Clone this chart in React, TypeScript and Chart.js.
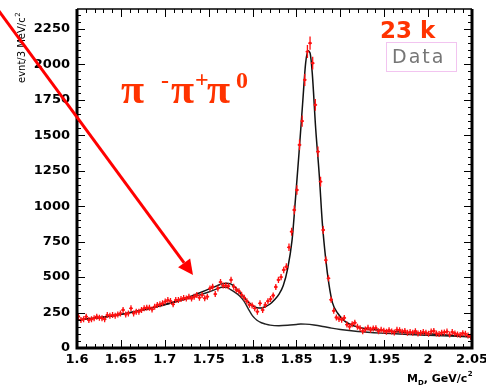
import React, { useEffect, useRef } from "react";
import { Chart, registerables } from "chart.js";

Chart.register(...registerables);

// Histogram: 3 MeV bins from 1.6 GeV
const BIN_START = 1.6;
const BIN_WIDTH = 0.003;
const counts = [
  222, 197, 203, 221, 197, 203, 209, 221, 214, 209, 203, 232, 228, 232, 228, 237, 244, 268, 237, 244,
  280, 244, 256, 256, 268, 280, 284, 284, 272, 291, 303, 308, 315, 327, 338, 331, 308, 338, 338, 345,
  352, 349, 361, 349, 361, 373, 355, 373, 350, 362, 420, 432, 380, 420, 465, 440, 440, 436, 480, 432,
  410, 400, 375, 355, 330, 305, 300, 280, 256, 315, 268, 303, 330, 345, 370, 430, 480, 500, 550, 573,
  710, 820, 973, 1114, 1432, 1600, 1890, 2090, 2149, 2008, 1714, 1384, 1173, 832, 620, 491,
  340, 262, 215, 205, 200, 212, 165, 150, 168, 178,
  150, 140, 118, 130, 142, 128, 138, 140, 118, 128,
  122, 115, 125, 117, 110, 128, 126, 115, 120, 108,
  112, 108, 118, 103, 106, 112, 108, 100, 116, 120,
  103, 98, 108, 110, 116, 95, 112, 103, 96, 92,
  104, 100, 88, 80,
];

// Total fit curve
const fitX = [
  1.6, 1.61, 1.62, 1.63, 1.64, 1.65, 1.66, 1.67, 1.68, 1.69, 1.7, 1.71, 1.72, 1.73, 1.74, 1.75, 1.76,
  1.765, 1.77, 1.775, 1.78, 1.785, 1.79, 1.795, 1.8, 1.805, 1.81, 1.815, 1.82, 1.825, 1.83, 1.835, 1.84, 1.845,
  1.849, 1.853, 1.857, 1.8605, 1.8633, 1.8655, 1.868, 1.872, 1.876, 1.8795,
  1.8833, 1.887, 1.891, 1.897, 1.905, 1.92, 1.95, 2.0, 2.05,
];
const fitY = [
  198, 204, 211, 219, 228, 238, 250, 262, 275, 290, 306, 324, 345, 366, 390, 415, 440,
  452, 457, 452, 430, 395, 360, 325, 298, 284, 282, 292, 310, 340, 378, 440, 560, 760,
  1060, 1380, 1720, 2010, 2095, 2080, 1940, 1540, 1220, 880,
  630, 450, 320, 245, 190, 148, 122, 100, 80,
];

// Background curve
const bgX = [
  1.6, 1.62, 1.64, 1.66, 1.68, 1.7, 1.72, 1.74, 1.75, 1.76, 1.765, 1.77, 1.775, 1.78, 1.785, 1.79, 1.795, 1.8,
  1.805, 1.81, 1.815, 1.82, 1.83, 1.84, 1.85, 1.855, 1.86, 1.87, 1.88, 1.89, 1.9, 1.92, 1.95, 2.0, 2.05,
];
const bgY = [
  197, 209, 226, 248, 274, 304, 338, 375, 395, 418, 428, 428, 412, 392, 368, 332, 278, 226,
  196, 178, 168, 161, 157, 160, 166, 169, 168, 162, 152, 140, 130, 116, 104, 90, 78,
];

const xTicks = [1.6, 1.65, 1.7, 1.75, 1.8, 1.85, 1.9, 1.95, 2.0, 2.05];
const yTicks = [0, 250, 500, 750, 1000, 1250, 1500, 1750, 2000, 2250];
const X_MIN = 1.6;
const X_MAX = 2.05;
const Y_MIN = 0;
const Y_MAX = 2390;
const X_MINOR = 0.01;
const Y_MINOR = 50;

const RED = "#ff1010";
const ORANGE = "#ff3300";
const TICK_FONT = { family: "'DejaVu Sans'", size: 13, weight: "bold" as const };

function fmt(v: number) {
  return String(Number(v.toFixed(2)));
}

export default function App() {
  const ref = useRef<HTMLCanvasElement>(null);

  useEffect(() => {
    const canvas = ref.current;
    if (!canvas) return;

    const points = counts.map((c, i) => ({ x: BIN_START + (i + 0.5) * BIN_WIDTH, y: c }));
    const fit = fitX.map((x, i) => ({ x, y: fitY[i] }));
    const bg = bgX.map((x, i) => ({ x, y: bgY[i] }));

    const decor = {
      id: "decor",
      afterDatasetsDraw(chart: any) {
        const { ctx, chartArea: a, scales } = chart;
        const xs = scales.x;
        const ys = scales.y;
        ctx.save();
        ctx.beginPath();
        ctx.rect(a.left, a.top, a.right - a.left, a.bottom - a.top);
        ctx.clip();
        ctx.strokeStyle = RED;
        ctx.lineWidth = 1.3;
        for (const p of points) {
          const px = xs.getPixelForValue(p.x);
          const py = ys.getPixelForValue(p.y);
          const err = Math.sqrt(p.y);
          const up = Math.max(3, py - ys.getPixelForValue(p.y + err));
          const half = Math.max(1.8, xs.getPixelForValue(p.x + BIN_WIDTH / 2) - px);
          ctx.beginPath();
          ctx.moveTo(px, py - up);
          ctx.lineTo(px, py + up);
          ctx.moveTo(px - half, py);
          ctx.lineTo(px + half, py);
          ctx.stroke();
        }
        ctx.restore();
      },
      afterDraw(chart: any) {
        const { ctx, chartArea: a, scales } = chart;
        const xs = scales.x;
        const ys = scales.y;
        ctx.save();
        // ticks
        ctx.strokeStyle = "#000";
        ctx.lineWidth = 1;
        ctx.beginPath();
        const ny = Math.floor((Y_MAX - Y_MIN) / Y_MINOR + 1e-6);
        for (let k = 0; k <= ny; k++) {
          const v = Y_MIN + k * Y_MINOR;
          const major = k % 5 === 0;
          const len = major ? 8 : 4;
          const py = Math.round(ys.getPixelForValue(v)) + 0.5;
          ctx.moveTo(a.left, py);
          ctx.lineTo(a.left + len, py);
          ctx.moveTo(a.right, py);
          ctx.lineTo(a.right - len, py);
        }
        const nx = Math.round((X_MAX - X_MIN) / X_MINOR);
        for (let k = 0; k <= nx; k++) {
          const v = X_MIN + k * X_MINOR;
          const major = k % 5 === 0;
          const len = major ? 8 : 4;
          const px = Math.round(xs.getPixelForValue(v)) + 0.5;
          ctx.moveTo(px, a.bottom);
          ctx.lineTo(px, a.bottom - len);
          ctx.moveTo(px, a.top);
          ctx.lineTo(px, a.top + len);
        }
        ctx.stroke();
        // frame
        ctx.lineWidth = 3;
        ctx.beginPath();
        ctx.moveTo(a.left, a.top);
        ctx.lineTo(a.left, a.bottom);
        ctx.lineTo(a.right, a.bottom);
        ctx.lineTo(a.right, a.top);
        ctx.stroke();
        ctx.lineWidth = 1.5;
        ctx.beginPath();
        ctx.moveTo(a.left, a.top);
        ctx.lineTo(a.right, a.top);
        ctx.stroke();

        // y title
        ctx.fillStyle = "#000";
        ctx.save();
        ctx.translate(25, 83);
        ctx.rotate(-Math.PI / 2);
        ctx.font = "10px 'DejaVu Sans'";
        ctx.textBaseline = "alphabetic";
        ctx.textAlign = "left";
        const yt = "evnt/3 MeV/c";
        ctx.fillText(yt, 0, 0);
        const yw = ctx.measureText(yt).width;
        ctx.font = "7px 'DejaVu Sans'";
        ctx.fillText("2", yw + 0.5, -5);
        ctx.restore();

        // x title
        ctx.textAlign = "left";
        ctx.textBaseline = "alphabetic";
        let tx = 407;
        ctx.font = "bold 11px 'DejaVu Sans'";
        ctx.fillText("M", tx, 382);
        tx += ctx.measureText("M").width;
        ctx.font = "bold 7px 'DejaVu Sans'";
        ctx.fillText("D", tx, 385);
        tx += ctx.measureText("D").width;
        ctx.font = "bold 11px 'DejaVu Sans'";
        ctx.fillText(", GeV/c", tx, 382);
        tx += ctx.measureText(", GeV/c").width;
        ctx.font = "bold 7px 'DejaVu Sans'";
        ctx.fillText("2", tx + 0.5, 376);

        // decay label
        ctx.fillStyle = ORANGE;
        ctx.font = "bold 42px 'Liberation Serif'";
        ctx.fillText("π", 121, 103);
        ctx.fillText("π", 171, 103);
        ctx.fillText("π", 207, 103);
        ctx.font = "bold 24px 'Liberation Serif'";
        ctx.fillText("-", 161, 88);
        ctx.fillText("+", 195, 87);
        ctx.fillText("0", 236, 88);

        // 23 k
        ctx.font = "bold 23px 'DejaVu Sans'";
        ctx.fillText("23 k", 380, 38);

        // Data legend box
        ctx.strokeStyle = "#f2c4f0";
        ctx.lineWidth = 1;
        ctx.strokeRect(386.5, 42.5, 70, 29);
        ctx.fillStyle = "#767676";
        ctx.font = "19px 'DejaVu Sans'";
        (ctx as any).letterSpacing = "2px";
        ctx.fillText("Data", 392, 63);
        (ctx as any).letterSpacing = "0px";

        // arrow
        const x0 = -4, y0 = 7, x1 = 193, y1 = 275;
        const dx = x1 - x0, dy = y1 - y0;
        const L = Math.hypot(dx, dy);
        const ux = dx / L, uy = dy / L;
        const hl = 15, hw = 7.5;
        const bx = x1 - ux * hl, by = y1 - uy * hl;
        ctx.strokeStyle = "#ff0000";
        ctx.fillStyle = "#ff0000";
        ctx.lineWidth = 3;
        ctx.beginPath();
        ctx.moveTo(x0, y0);
        ctx.lineTo(bx, by);
        ctx.stroke();
        ctx.beginPath();
        ctx.moveTo(x1, y1);
        ctx.lineTo(bx - uy * hw, by + ux * hw);
        ctx.lineTo(bx + uy * hw, by - ux * hw);
        ctx.closePath();
        ctx.fill();
        ctx.restore();
      },
    };

    const chart = new Chart(canvas, {
      type: "scatter",
      data: {
        datasets: [
          {
            label: "Data",
            data: points,
            showLine: false,
            pointRadius: 1.4,
            pointBorderWidth: 0,
            pointBackgroundColor: RED,
            order: 0,
          },
          {
            label: "fit",
            data: fit,
            showLine: true,
            pointRadius: 0,
            borderColor: "#111",
            borderWidth: 1.5,
            cubicInterpolationMode: "monotone",
            order: 1,
          },
          {
            label: "background",
            data: bg,
            showLine: true,
            pointRadius: 0,
            borderColor: "#222",
            borderWidth: 1.4,
            cubicInterpolationMode: "monotone",
            order: 2,
          },
        ],
      } as any,
      options: {
        responsive: false,
        animation: false,
        events: [],
        layout: { padding: { top: 9, right: 14, left: 0, bottom: 0 } },
        plugins: { legend: { display: false }, tooltip: { enabled: false } },
        scales: {
          x: {
            type: "linear",
            min: X_MIN,
            max: X_MAX,
            grid: { display: false, drawTicks: false },
            border: { display: false },
            ticks: {
              font: TICK_FONT,
              color: "#000",
              padding: 4,
              maxRotation: 0,
              autoSkip: false,
              callback: (v: any) => fmt(Number(v)),
            },
            afterBuildTicks: (s: any) => {
              s.ticks = xTicks.map((v) => ({ value: v }));
            },
            afterFit: (s: any) => {
              s.height = 37;
              s.paddingLeft = 0;
              s.paddingRight = 0;
            },
          },
          y: {
            type: "linear",
            min: Y_MIN,
            max: Y_MAX,
            grid: { display: false, drawTicks: false },
            border: { display: false },
            ticks: {
              font: TICK_FONT,
              color: "#000",
              padding: 7,
              autoSkip: false,
              callback: (v: any) => String(v),
            },
            afterBuildTicks: (s: any) => {
              s.ticks = yTicks.map((v) => ({ value: v }));
            },
            afterFit: (s: any) => {
              s.width = 77;
              s.paddingTop = 0;
              s.paddingBottom = 0;
            },
          },
        },
      } as any,
      plugins: [decor],
    });

    return () => chart.destroy();
  }, []);

  return (
    <div style={{ position: "absolute", left: 0, top: 0, width: 486, height: 385, background: "#fff" }}>
      <canvas ref={ref} width={486} height={385} style={{ display: "block", width: 486, height: 385 }} />
    </div>
  );
}
